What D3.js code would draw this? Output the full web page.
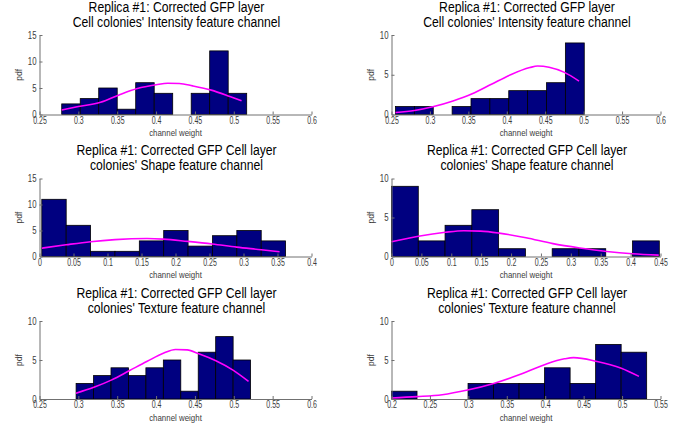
<!DOCTYPE html>
<html lang="en">
<head>
    <meta charset="UTF-8">
    <script src="https://d3js.org/d3.v7.min.js"></script>
    <style>
        body {margin: 0; background: #fff;}
        svg {display: block; font-family: "Liberation Sans", Arial, sans-serif;}
    </style>
</head>
<body>
<svg id="chart" width="688" height="428"></svg>
<script type="text/javascript">
    // --- data ---
    const titles = [
        ["Replica #1: Corrected GFP layer", "Cell colonies' Intensity feature channel"],
        ["Replica #1: Corrected GFP layer", "Cell colonies' Intensity feature channel"],
        ["Replica #1: Corrected GFP Cell layer", "colonies' Shape feature channel"],
        ["Replica #1: Corrected GFP Cell layer", "colonies' Shape feature channel"],
        ["Replica #1: Corrected GFP Cell layer", "colonies' Texture feature channel"],
        ["Replica #1: Corrected GFP Cell layer", "colonies' Texture feature channel"]
    ];

    // histogram counts, first bin edge, bin width
    const intensityA = [2, 3, 5, 1, 6, 4, 0, 4, 12, 4];
    const intensityAStart = 0.2786, intensityAWidth = 0.0238;
    const intensityB = [1, 1, 0, 1, 2, 2, 3, 3, 4, 9];
    const intensityBStart = 0.2552, intensityBWidth = 0.02456;
    const shapeA = [11, 6, 1, 1, 3, 5, 2, 4, 5, 3];
    const shapeAStart = 0.0034, shapeAWidth = 0.03585;
    const shapeB = [9, 2, 4, 6, 1, 0, 1, 1, 0, 2];
    const shapeBStart = 0.0, shapeBWidth = 0.0448;
    const textureA = [2, 3, 4, 3, 4, 5, 1, 6, 8, 5];
    const textureAStart = 0.2971, textureAWidth = 0.02245;
    const textureB = [1, 0, 0, 2, 2, 2, 4, 2, 7, 6];
    const textureBStart = 0.2, textureBWidth = 0.0332;

    // fitted pdf curves (x, y)
    const intensityAFit = [[0.2786, 0.85], [0.30, 1.5], [0.3286, 2.3], [0.3524, 3.7], [0.376, 4.9], [0.40, 5.6],
        [0.415, 5.9], [0.43, 5.85], [0.447, 5.4], [0.471, 4.6], [0.495, 3.4], [0.51, 2.6]];
    const intensityBFit = [[0.2552, 0.25], [0.28, 0.5], [0.305, 1.0], [0.33, 1.7], [0.355, 2.6], [0.38, 3.8],
        [0.405, 5.0], [0.43, 5.9], [0.44, 6.1], [0.455, 5.95], [0.475, 5.3], [0.494, 4.2]];
    const shapeAFit = [[0.0034, 1.6], [0.039, 2.25], [0.075, 2.85], [0.111, 3.25], [0.158, 3.45], [0.182, 3.35],
        [0.218, 2.9], [0.254, 2.4], [0.29, 1.8], [0.326, 1.3], [0.353, 0.9]];
    const shapeBFit = [[0.0, 1.9], [0.045, 2.6], [0.09, 3.1], [0.121, 3.3], [0.149, 3.25], [0.18, 3.0],
        [0.225, 2.4], [0.27, 1.65], [0.315, 1.1], [0.36, 0.65], [0.403, 0.35], [0.447, 0.17]];
    const textureAFit = [[0.297, 0.75], [0.32, 1.5], [0.343, 2.45], [0.366, 3.65], [0.388, 4.8], [0.41, 5.9],
        [0.425, 6.35], [0.44, 6.3], [0.455, 5.8], [0.477, 4.9], [0.499, 3.7], [0.519, 2.25]];
    const textureBFit = [[0.2, 0.13], [0.233, 0.3], [0.266, 0.55], [0.299, 1.15], [0.333, 2.0], [0.366, 3.1],
        [0.399, 4.4], [0.425, 5.15], [0.437, 5.3], [0.466, 4.85], [0.499, 3.95], [0.522, 2.9]];

    // axis ticks
    const xTicksA = [0.25, 0.3, 0.35, 0.4, 0.45, 0.5, 0.55, 0.6];
    const xLabelsA = ["0.25", "0.3", "0.35", "0.4", "0.45", "0.5", "0.55", "0.6"];
    const xTicksShapeA = [0, 0.05, 0.1, 0.15, 0.2, 0.25, 0.3, 0.35, 0.4];
    const xLabelsShapeA = ["0", "0.05", "0.1", "0.15", "0.2", "0.25", "0.3", "0.35", "0.4"];
    const xTicksShapeB = [0, 0.05, 0.1, 0.15, 0.2, 0.25, 0.3, 0.35, 0.4, 0.45];
    const xLabelsShapeB = ["0", "0.05", "0.1", "0.15", "0.2", "0.25", "0.3", "0.35", "0.4", "0.45"];
    const xTicksTexB = [0.2, 0.25, 0.3, 0.35, 0.4, 0.45, 0.5, 0.55];
    const xLabelsTexB = ["0.2", "0.25", "0.3", "0.35", "0.4", "0.45", "0.5", "0.55"];
    const yTicks15 = [0, 5, 10, 15];
    const yTicks10 = [0, 5, 10];

    // --- layout ---
    const cols = [[39.5, 311.5], [391.5, 660.5]];
    const rows = [[35, 114.5], [178.5, 256.5], [321, 399]];

    const panels = [
        {col: 0, row: 0, counts: intensityA, start: intensityAStart, width: intensityAWidth, fit: intensityAFit,
            xDom: [0.25, 0.6], xTicks: xTicksA, xLabels: xLabelsA, yMax: 15, yTicks: yTicks15},
        {col: 1, row: 0, counts: intensityB, start: intensityBStart, width: intensityBWidth, fit: intensityBFit,
            xDom: [0.25, 0.6], xTicks: xTicksA, xLabels: xLabelsA, yMax: 10, yTicks: yTicks10},
        {col: 0, row: 1, counts: shapeA, start: shapeAStart, width: shapeAWidth, fit: shapeAFit,
            xDom: [0, 0.4], xTicks: xTicksShapeA, xLabels: xLabelsShapeA, yMax: 15, yTicks: yTicks15},
        {col: 1, row: 1, counts: shapeB, start: shapeBStart, width: shapeBWidth, fit: shapeBFit,
            xDom: [0, 0.45], xTicks: xTicksShapeB, xLabels: xLabelsShapeB, yMax: 10, yTicks: yTicks10},
        {col: 0, row: 2, counts: textureA, start: textureAStart, width: textureAWidth, fit: textureAFit,
            xDom: [0.25, 0.6], xTicks: xTicksA, xLabels: xLabelsA, yMax: 10, yTicks: yTicks10},
        {col: 1, row: 2, counts: textureB, start: textureBStart, width: textureBWidth, fit: textureBFit,
            xDom: [0.2, 0.55], xTicks: xTicksTexB, xLabels: xLabelsTexB, yMax: 10, yTicks: yTicks10}
    ];

    // squeeze text horizontally, the original figure is narrower than its fonts
    function squeeze(sel, k) {
        sel.each(function () {
            let w = this.getComputedTextLength();
            d3.select(this).attr('textLength', w * k).attr('lengthAdjust', 'spacingAndGlyphs');
        });
    }

    const svg = d3.select('#chart');

    panels.forEach((p, pi) => {
        let [x0, x1] = cols[p.col];
        let [yTop, yBot] = rows[p.row];

        let x = d3.scaleLinear().domain(p.xDom).range([x0, x1]);
        let y = d3.scaleLinear().domain([0, p.yMax]).range([yBot, yTop]);

        let g = svg.append('g');

        // bars
        g.selectAll('rect.bar')
            .data(p.counts.map((c, i) => ({c: c, a: p.start + i * p.width, b: p.start + (i + 1) * p.width})))
            .enter().append('rect')
            .attr('class', 'bar')
            .attr('x', d => x(d.a))
            .attr('width', d => x(d.b) - x(d.a))
            .attr('y', d => y(d.c))
            .attr('height', d => y(0) - y(d.c))
            .attr('fill', '#000080')
            .attr('stroke', '#000')
            .attr('stroke-width', 0.8);

        // fitted curve
        let line = d3.line()
            .x(d => x(d[0]))
            .y(d => y(d[1]))
            .curve(d3.curveMonotoneX);
        g.append('path')
            .datum(p.fit)
            .attr('d', line)
            .attr('fill', 'none')
            .attr('stroke', '#ff00ff')
            .attr('stroke-width', 1.6);

        // axes
        let xAxis = g.append('g')
            .attr('transform', 'translate(0,' + yBot + ')')
            .call(d3.axisBottom(x).tickValues(p.xTicks).tickSize(-3).tickSizeOuter(0).tickPadding(2)
                .tickFormat((d, i) => p.xLabels[i]));
        let yAxis = g.append('g')
            .attr('transform', 'translate(' + x0 + ',0)')
            .call(d3.axisLeft(y).tickValues(p.yTicks).tickSize(-3).tickSizeOuter(0).tickPadding(3));

        [xAxis, yAxis].forEach(a => {
            a.select('.domain').attr('stroke', '#707070');
            a.selectAll('.tick line').attr('stroke', '#707070');
            a.selectAll('.tick text')
                .attr('fill', '#3c3c3c')
                .attr('font-size', '10px')
                .attr('font-family', '"Liberation Sans", Arial, sans-serif');
        });
        squeeze(xAxis.selectAll('.tick text'), 0.7);
        squeeze(yAxis.selectAll('.tick text'), 0.78);

        // labels
        let cx = (x0 + x1) / 2;
        let xl = g.append('text')
            .attr('x', cx).attr('y', yBot + 21.5)
            .attr('text-anchor', 'middle')
            .attr('font-size', '8.5px')
            .attr('fill', '#3c3c3c')
            .text('channel weight');
        squeeze(xl, 0.93);

        g.append('text')
            .attr('transform', 'translate(' + (x0 - 18) + ',' + ((yTop + yBot) / 2) + ') rotate(-90)')
            .attr('text-anchor', 'middle')
            .attr('font-size', '8.5px')
            .attr('fill', '#3c3c3c')
            .text('pdf');

        titles[pi].forEach((t, li) => {
            let tt = g.append('text')
                .attr('x', x0 + (x1 - x0) / 2 + 1)
                .attr('y', yTop - 23.5 + li * 15)
                .attr('text-anchor', 'middle')
                .attr('font-size', '14px')
                .attr('fill', '#000')
                .text(t);
            squeeze(tt, 0.87);
        });
    });
</script>
</body>
</html>
